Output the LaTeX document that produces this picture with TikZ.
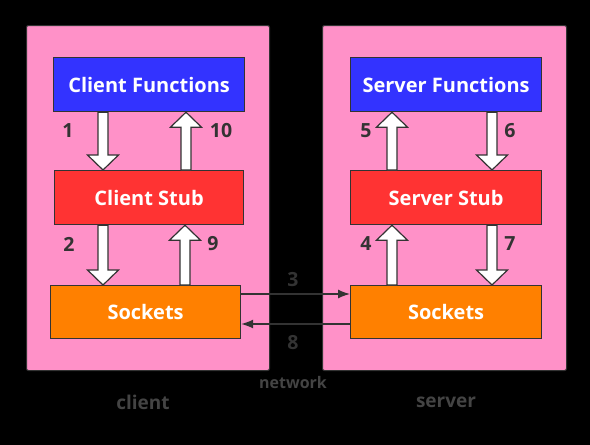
\documentclass[tikz,border=0pt]{standalone}
\usepackage{fontspec}
\setmainfont{Open Sans}
\usetikzlibrary{calc,arrows.meta}
\definecolor{bgpink}{HTML}{FF91C8}
\definecolor{fblue}{HTML}{3333FF}
\definecolor{sred}{HTML}{FF3333}
\definecolor{sorange}{HTML}{FF8000}
\definecolor{edge}{HTML}{333333}
\definecolor{dimtext}{HTML}{444444}
\newcommand\blkdown[3]{%
  \path (#1,0 |- #2) coordinate (t) (#1,0 |- #3) coordinate (b);
  \draw[blk] ($(t)+(-5,0)$) -- ($(t)+(5,0)$) -- ($(b)+(5,-15)$) -- ($(b)+(15.5,-15)$) -- (b) -- ($(b)+(-15.5,-15)$) -- ($(b)+(-5,-15)$) -- cycle;}
\newcommand\blkup[3]{%
  \path (#1,0 |- #2) coordinate (t) (#1,0 |- #3) coordinate (b);
  \draw[blk] ($(b)+(-5,0)$) -- ($(b)+(5,0)$) -- ($(t)+(5,15)$) -- ($(t)+(15.5,15)$) -- (t) -- ($(t)+(-15.5,15)$) -- ($(t)+(-5,15)$) -- cycle;}
\begin{document}
\begin{tikzpicture}[x=1pt,y=-1pt,
  panel/.style={draw=edge,fill=bgpink,line width=1pt,rounded corners=2pt,anchor=north west,inner sep=0pt},
  box/.style={draw=edge,line width=1.2pt,anchor=north west,inner sep=0pt,text=white,font=\bfseries\fontsize{20}{22}\selectfont},
  blk/.style={draw=edge,fill=white,line width=1.2pt,line join=miter},
  num/.style={text=edge,font=\bfseries\fontsize{19.5}{21}\selectfont},
  caption/.style={text=dimtext,font=\bfseries\fontsize{19}{21}\selectfont},
  link/.style={draw=edge,line width=1.3pt,-{Latex[length=12pt,width=9pt]}}]
\fill[black] (0,0) rectangle (590,445);
\useasboundingbox (0,0) rectangle (590,445);
\node[panel,minimum width=243pt,minimum height=345pt] (client) at (26,25) {};
\node[panel,minimum width=244pt,minimum height=345pt] (server) at (322,25) {};
\node[box,fill=fblue,minimum width=191pt,minimum height=54pt] (cf) at (53,57) {Client Functions};
\node[box,fill=sred,minimum width=189pt,minimum height=54pt] (cs) at (54,170) {Client Stub};
\node[box,fill=sorange,minimum width=190pt,minimum height=53pt] (ck) at (50,285) {Sockets};
\node[box,fill=fblue,minimum width=191pt,minimum height=54pt] (sf) at (350,57) {Server Functions};
\node[box,fill=sred,minimum width=191pt,minimum height=54pt] (ss) at (350,170) {Server Stub};
\node[box,fill=sorange,minimum width=191pt,minimum height=53pt] (sk) at (350,285) {Sockets};
\blkdown{103}{cf.south}{cs.north}
\blkup{186}{cf.south}{cs.north}
\blkdown{103}{cs.south}{ck.north}
\blkup{185}{cs.south}{ck.north}
\blkup{392}{sf.south}{ss.north}
\blkdown{492}{sf.south}{ss.north}
\blkup{392}{ss.south}{sk.north}
\blkdown{492}{ss.south}{sk.north}
\draw[link] (ck.east |- 0,294) -- (sk.west |- 0,294);
\draw[link] (sk.west |- 0,324) -- (ck.east |- 0,324);
\node[num] (n1) at (68,131) {1};
\node[num] (n10) at (221,131) {10};
\node[num] (n2) at (69,244) {2};
\node[num] (n9) at (213,244) {9};
\node[num] (n5) at (366,131) {5};
\node[num] (n6) at (510,131) {6};
\node[num] (n4) at (366,244) {4};
\node[num] (n7) at (510,244) {7};
\node[num] (n3) at (293,280) {3};
\node[num] (n8) at (293,343) {8};
\node[caption,font=\bfseries\fontsize{16}{18}\selectfont] (net) at (293,382) {network};
\node[caption] (lc) at (143,402) {client};
\node[caption] (ls) at (446,402) {server};
\end{tikzpicture}
\end{document}
